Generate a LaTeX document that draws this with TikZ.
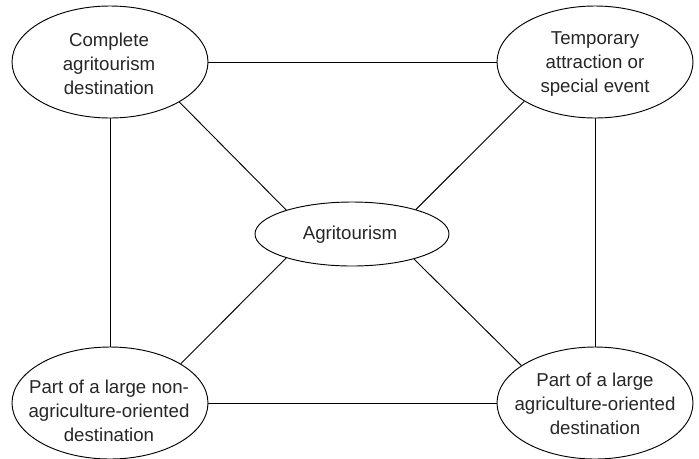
\documentclass[tikz,border=0pt]{standalone}
\usepackage{fontspec}
\setmainfont{Liberation Sans}
\usetikzlibrary{shapes.geometric}
\begin{document}
\begin{tikzpicture}[x=0.75pt,y=-0.75pt,
  ell/.style={ellipse,draw=black,line width=0.7pt,inner sep=0pt,minimum width=147pt,minimum height=84pt},
  cell/.style={ellipse,draw=black,line width=0.7pt,inner sep=0pt,minimum width=145.5pt,minimum height=48pt},
  txt/.style={align=center,inner sep=0pt,text=black!85,font=\fontsize{14}{18}\selectfont},
  link/.style={draw=black,line width=0.7pt}]
\useasboundingbox (0,0) rectangle (699,458);
\node[ell] (tl) at (110,62) {};
\node[ell] (tr) at (595,62) {};
\node[cell] (c) at (352,234) {};
\node[ell] (bl) at (110,403) {};
\node[ell] (br) at (595,403) {};
\node[txt] (tlt) at (109,64) {Complete\\agritourism\\destination};
\node[txt] (trt) at (595,64) {Temporary\\attraction or\\special event};
\node[txt] (ct) at (350,235) {Agritourism};
\node[txt] (blt) at (109,411) {Part of a large non-\\agriculture-oriented\\destination};
\node[txt] (brt) at (595,404) {Part of a large\\agriculture-oriented\\destination};
\draw[link] (tl.east) -- (tr.west);
\draw[link] (bl.east) -- (br.west);
\draw[link] (tl.south) -- (bl.north);
\draw[link] (tr.south) -- (br.north);
\draw[link] (tl.-30.8) -- (c.160.8);
\draw[link] (tr.-151.3) -- (c.21.6);
\draw[link] (bl.29.8) -- (c.200.7);
\draw[link] (br.153.1) -- (c.-22.4);
\end{tikzpicture}
\end{document}
